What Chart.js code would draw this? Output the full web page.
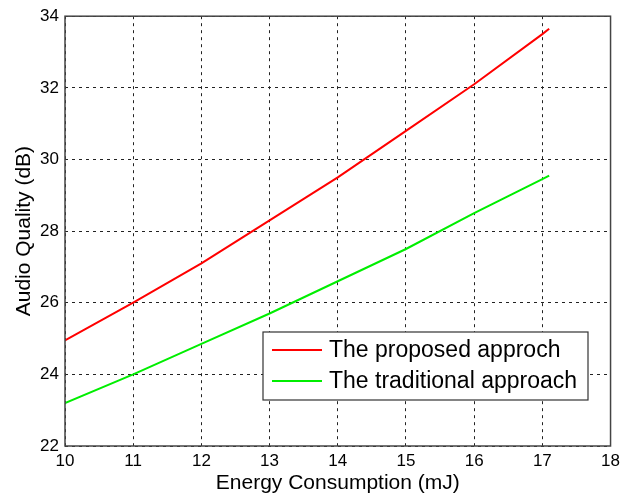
<!DOCTYPE html>
<html lang="en">
<head>
  <meta charset="UTF-8" />
  <title>Audio Quality vs Energy Consumption</title>
  <script src="https://cdn.jsdelivr.net/npm/chart.js"></script>
  <style>
    * { margin: 0; padding: 0; }
    body { background: #fff; width: 625px; height: 496px; overflow: hidden; }
    #wrap { width: 625px; height: 496px; }
  </style>
</head>
<body>
  <div id="wrap"><canvas id="chart"></canvas></div>

  <script>
    const energy = [10, 11, 12, 13, 14, 15, 16, 17, 17.1];
    const proposed = [24.95, 26.0, 27.1, 28.3, 29.5, 30.8, 32.1, 33.5, 33.65];
    const traditional = [23.2, 24.0, 24.85, 25.7, 26.6, 27.5, 28.5, 29.45, 29.55];
    const xTicks = [10, 11, 12, 13, 14, 15, 16, 17, 18];
    const yTicks = [22, 24, 26, 28, 30, 32, 34];

    const font = 'Liberation Sans, Arial, sans-serif';

    function toPoints(ys) {
      return energy.map((x, i) => ({ x: x, y: ys[i] }));
    }

    // box around the plot + legend inside the axes
    const frameLegend = {
      id: 'frameLegend',
      afterDraw(chart) {
        const { ctx, chartArea: a } = chart;
        ctx.save();
        ctx.strokeStyle = '#444';
        ctx.lineWidth = 1.5;
        ctx.strokeRect(a.left, a.top, a.right - a.left, a.bottom - a.top);

        const x0 = 263, y0 = 332, w = 325, h = 68;
        ctx.fillStyle = '#fff';
        ctx.fillRect(x0, y0, w, h);
        ctx.strokeStyle = '#333';
        ctx.lineWidth = 1.2;
        ctx.strokeRect(x0, y0, w, h);
        ctx.font = '23px ' + font;
        ctx.textBaseline = 'middle';
        chart.data.datasets.forEach((ds, i) => {
          const y = y0 + 18 + i * 31;
          ctx.strokeStyle = ds.borderColor;
          ctx.lineWidth = 2;
          ctx.beginPath();
          ctx.moveTo(x0 + 9, y);
          ctx.lineTo(x0 + 59, y);
          ctx.stroke();
          ctx.fillStyle = '#000';
          ctx.fillText(ds.label, x0 + 66, y + 1);
        });
        ctx.restore();
      }
    };

    new Chart(document.getElementById('chart'), {
      type: 'scatter',
      data: {
        datasets: [
          {
            label: 'The proposed approch',
            data: toPoints(proposed),
            showLine: true,
            borderColor: '#ff0000',
            borderWidth: 2,
            pointRadius: 0,
            tension: 0
          },
          {
            label: 'The traditional approach',
            data: toPoints(traditional),
            showLine: true,
            borderColor: '#00ee00',
            borderWidth: 2,
            pointRadius: 0,
            tension: 0
          }
        ]
      },
      options: {
        responsive: true,
        maintainAspectRatio: false,
        animation: false,
        layout: { padding: { top: 16, right: 14, left: 12, bottom: 0 } },
        plugins: {
          legend: { display: false },
          tooltip: { enabled: false }
        },
        scales: {
          x: {
            type: 'linear',
            min: 10,
            max: 18,
            afterBuildTicks: (s) => { s.ticks = xTicks.map(v => ({ value: v })); },
            afterFit: (s) => { s.height = 50; },
            border: { display: false, dash: [3, 4] },
            grid: {
              color: '#222',
              lineWidth: 1,
              drawTicks: false
            },
            ticks: { color: '#000', font: { family: font, size: 17 }, padding: 5 },
            title: {
              display: true,
              text: 'Energy Consumption (mJ)',
              color: '#000',
              font: { family: font, size: 21 },
              padding: { top: 0, bottom: 0 }
            }
          },
          y: {
            min: 22,
            max: 34,
            afterBuildTicks: (s) => { s.ticks = yTicks.map(v => ({ value: v })); },
            afterFit: (s) => { s.width = 53; },
            border: { display: false, dash: [3, 4] },
            grid: {
              color: '#222',
              lineWidth: 1,
              drawTicks: false
            },
            ticks: { color: '#000', font: { family: font, size: 17 }, padding: 6 },
            title: {
              display: true,
              text: 'Audio Quality (dB)',
              color: '#000',
              font: { family: font, size: 21 },
              padding: { top: 0, bottom: 2 }
            }
          }
        }
      },
      plugins: [frameLegend]
    });
  </script>
</body>
</html>
